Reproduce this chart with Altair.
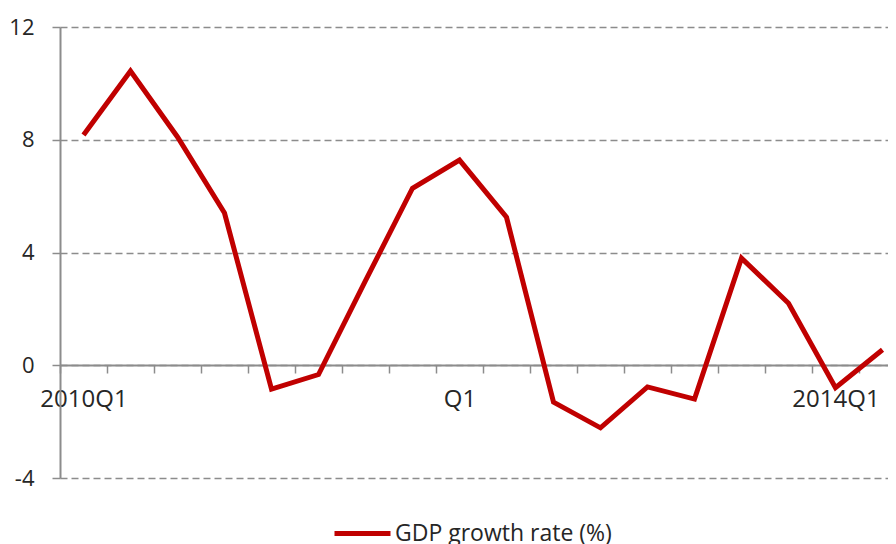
import altair as alt
import pandas as pd

quarters = ["2010Q1", "2010Q2", "2010Q3", "2010Q4",
            "2011Q1", "2011Q2", "2011Q3", "2011Q4",
            "2012Q1", "2012Q2", "2012Q3", "2012Q4",
            "2013Q1", "2013Q2", "2013Q3", "2013Q4",
            "2014Q1", "2014Q2"]
gdp_growth = [8.17, 10.44, 8.1, 5.4, -0.85, -0.33, 3.0, 6.28, 7.28, 5.25,
              -1.31, -2.22, -0.77, -1.2, 3.8, 2.2, -0.8, 0.55]
series_name = "GDP growth rate (%)"
shown_labels = {"2010Q1": "2010Q1", "2012Q1": "Q1", "2014Q1": "2014Q1"}
y_ticks = [-4, 0, 4, 8, 12]

n = len(quarters)
df = pd.DataFrame({"idx": list(range(n)), "quarter": quarters,
                   "value": gdp_growth, "series": series_name})

# ticks sit at the boundaries between quarters; labels shifted to the centres
boundaries = [i - 0.5 for i in range(n)]
label_expr = " : ".join(
    [f"datum.value == {quarters.index(k) - 0.5} ? '{v}'" for k, v in shown_labels.items()]
) + " : ''"

FONT = "Open Sans"
GREY = "#8c8c8c"
TEXT = "#262626"
W = 828
STEP = 47

chart = alt.Chart(df).mark_line(strokeWidth=5, strokeJoin="miter").encode(
    x=alt.X("idx:Q",
            scale=alt.Scale(domain=[-0.5, -0.5 + W / STEP], nice=False, zero=False),
            axis=alt.Axis(title=None, orient="bottom", offset=-113,
                          values=boundaries, labelExpr=label_expr,
                          labelOffset=STEP / 2, labelFlush=False,
                          labelOverlap=False, labelAngle=0,
                          tickSize=8, tickColor=GREY,
                          tickWidth=1.5, domainColor=GREY, domainWidth=2,
                          labelPadding=14, labelFontSize=24, labelFont=FONT,
                          labelColor=TEXT, grid=False)),
    y=alt.Y("value:Q",
            scale=alt.Scale(domain=[-4, 12], nice=False, zero=False),
            axis=alt.Axis(title=None, values=y_ticks, tickSize=8,
                          labelExpr="datum.value + ''",
                          tickColor=GREY, tickWidth=1.5, domainColor=GREY,
                          domainWidth=2, labelPadding=18, labelFontSize=22,
                          labelFont=FONT, labelColor=TEXT,
                          grid=True, gridColor=GREY, gridDash=[7, 4],
                          gridWidth=1.5)),
    color=alt.Color("series:N",
                    scale=alt.Scale(domain=[series_name], range=["#C00000"]),
                    legend=alt.Legend(title=None, orient="none",
                                      legendX=272, legendY=476,
                                      symbolType="stroke", symbolSize=3136,
                                      symbolStrokeWidth=5, labelFontSize=23,
                                      labelFont=FONT, labelColor=TEXT,
                                      labelOffset=2, labelLimit=0)),
).properties(
    width=W, height=451,
    autosize=alt.AutoSizeParams(type="none"),
    padding={"left": 52, "top": 19, "right": 0, "bottom": 66},
).configure_view(stroke=None)

chart.save("out.html", embed_options={"renderer": "svg", "actions": False})
